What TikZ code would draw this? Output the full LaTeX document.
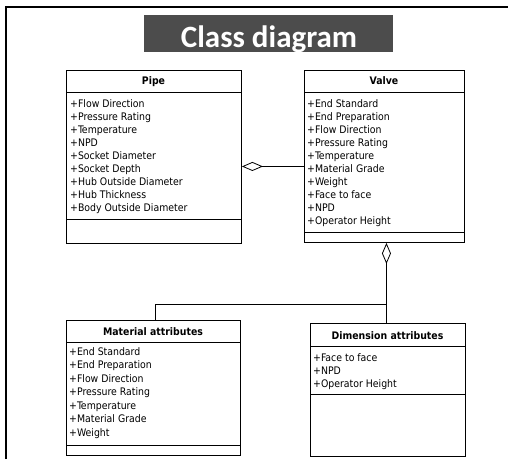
\documentclass[tikz,border=0pt]{standalone}
\usepackage{fontspec}
\setmainfont{DejaVu Sans Condensed}
\newfontfamily\titlefont{Carlito}
\usetikzlibrary{arrows.meta}
\newcommand\classattrs[5]{%
  \foreach \t [count=\i] in {#5} {
    \node[attr] (#1-\i) at ({#2},{#3+(\i-1)*#4}) {\t};
  }}
\tikzset{
  classbox/.style={draw, line width=0.9pt, fill=white, anchor=north west, inner sep=0pt},
  hdr/.style={anchor=base, inner sep=0pt, font=\fontsize{10.4}{12}\selectfont\bfseries},
  attr/.style={anchor=base west, inner sep=0pt, font=\fontsize{10.4}{12}\selectfont},
  sep/.style={line width=0.9pt},
  conn/.style={line width=0.8pt},
  agg/.style={-{Diamond[open, fill=white, length=21pt, width=9pt, line width=0.8pt]}},
}
\begin{document}
\begin{tikzpicture}[x=1pt,y=-1pt]
\useasboundingbox (0,0) rectangle (508,459);
% frame
\draw[line width=2pt] (6,459) -- (6,7) -- (508,7);
% title
\node[fill=black!70, minimum width=249pt, minimum height=37pt, anchor=north west, inner sep=0pt] (titlebg) at (144,15) {};
\node[anchor=base, inner sep=0pt, text=white, font=\titlefont\bfseries\fontsize{31}{31}\selectfont] (title) at (269,47) {Class diagram};

% Pipe
\node[classbox, minimum width=175pt, minimum height=173pt] (pipe) at (66,70) {};
\node[hdr] (pipeT) at (153.5,84) {Pipe};
\draw[sep] ([yshift=-22pt]pipe.north west) -- ([yshift=-22pt]pipe.north east);
\draw[sep] ([yshift=24pt]pipe.south west) -- ([yshift=24pt]pipe.south east);
\classattrs{pipeA}{70}{107}{13.1}{+Flow Direction,+Pressure Rating,+Temperature,+NPD,+Socket Diameter,+Socket Depth,+Hub Outside Diameter,+Hub Thickness,+Body Outside Diameter}

% Valve
\node[classbox, minimum width=160pt, minimum height=172pt] (valve) at (304,70) {};
\node[hdr] (valveT) at (384,84) {Valve};
\draw[sep] ([yshift=-22pt]valve.north west) -- ([yshift=-22pt]valve.north east);
\draw[sep] ([yshift=10pt]valve.south west) -- ([yshift=10pt]valve.south east);
\classattrs{valveA}{307}{107}{13.1}{+End Standard,+End Preparation,+Flow Direction,+Pressure Rating,+Temperature,+Material Grade,+Weight,+Face to face,+NPD,+Operator Height}

% Material attributes
\node[classbox, minimum width=174pt, minimum height=135pt] (mat) at (66,320) {};
\node[hdr] (matT) at (153,335) {Material attributes};
\draw[sep] ([yshift=-22pt]mat.north west) -- ([yshift=-22pt]mat.north east);
\draw[sep] ([yshift=10pt]mat.south west) -- ([yshift=10pt]mat.south east);
\classattrs{matA}{69}{355}{13.5}{+End Standard,+End Preparation,+Flow Direction,+Pressure Rating,+Temperature,+Material Grade,+Weight}

% Dimension attributes
\node[classbox, minimum width=155pt, minimum height=133pt] (dim) at (310,323) {};
\node[hdr] (dimT) at (387.5,339) {Dimension attributes};
\draw[sep] ([yshift=-23pt]dim.north west) -- ([yshift=-23pt]dim.north east);
\draw[sep] ([yshift=-71pt]dim.north west) -- ([yshift=-71pt]dim.north east);
\classattrs{dimA}{313}{361}{13}{+Face to face,+NPD,+Operator Height}

% connectors
\coordinate (pd) at ([yshift=-9.5pt]pipe.east);
\draw[conn, agg] (valve.west |- pd) -- (pd);
\coordinate (vd) at ([xshift=2pt]valve.south);
\coordinate (j) at ([yshift=-61pt]vd);
\coordinate (mn) at ([xshift=2pt]mat.north);
\draw[line width=1.6pt, agg] (j) -- (vd);
\draw[conn] (j) -- (j -| mn) -- (mn);
\draw[conn] (j) -- (j |- dim.north);
\end{tikzpicture}
\end{document}
